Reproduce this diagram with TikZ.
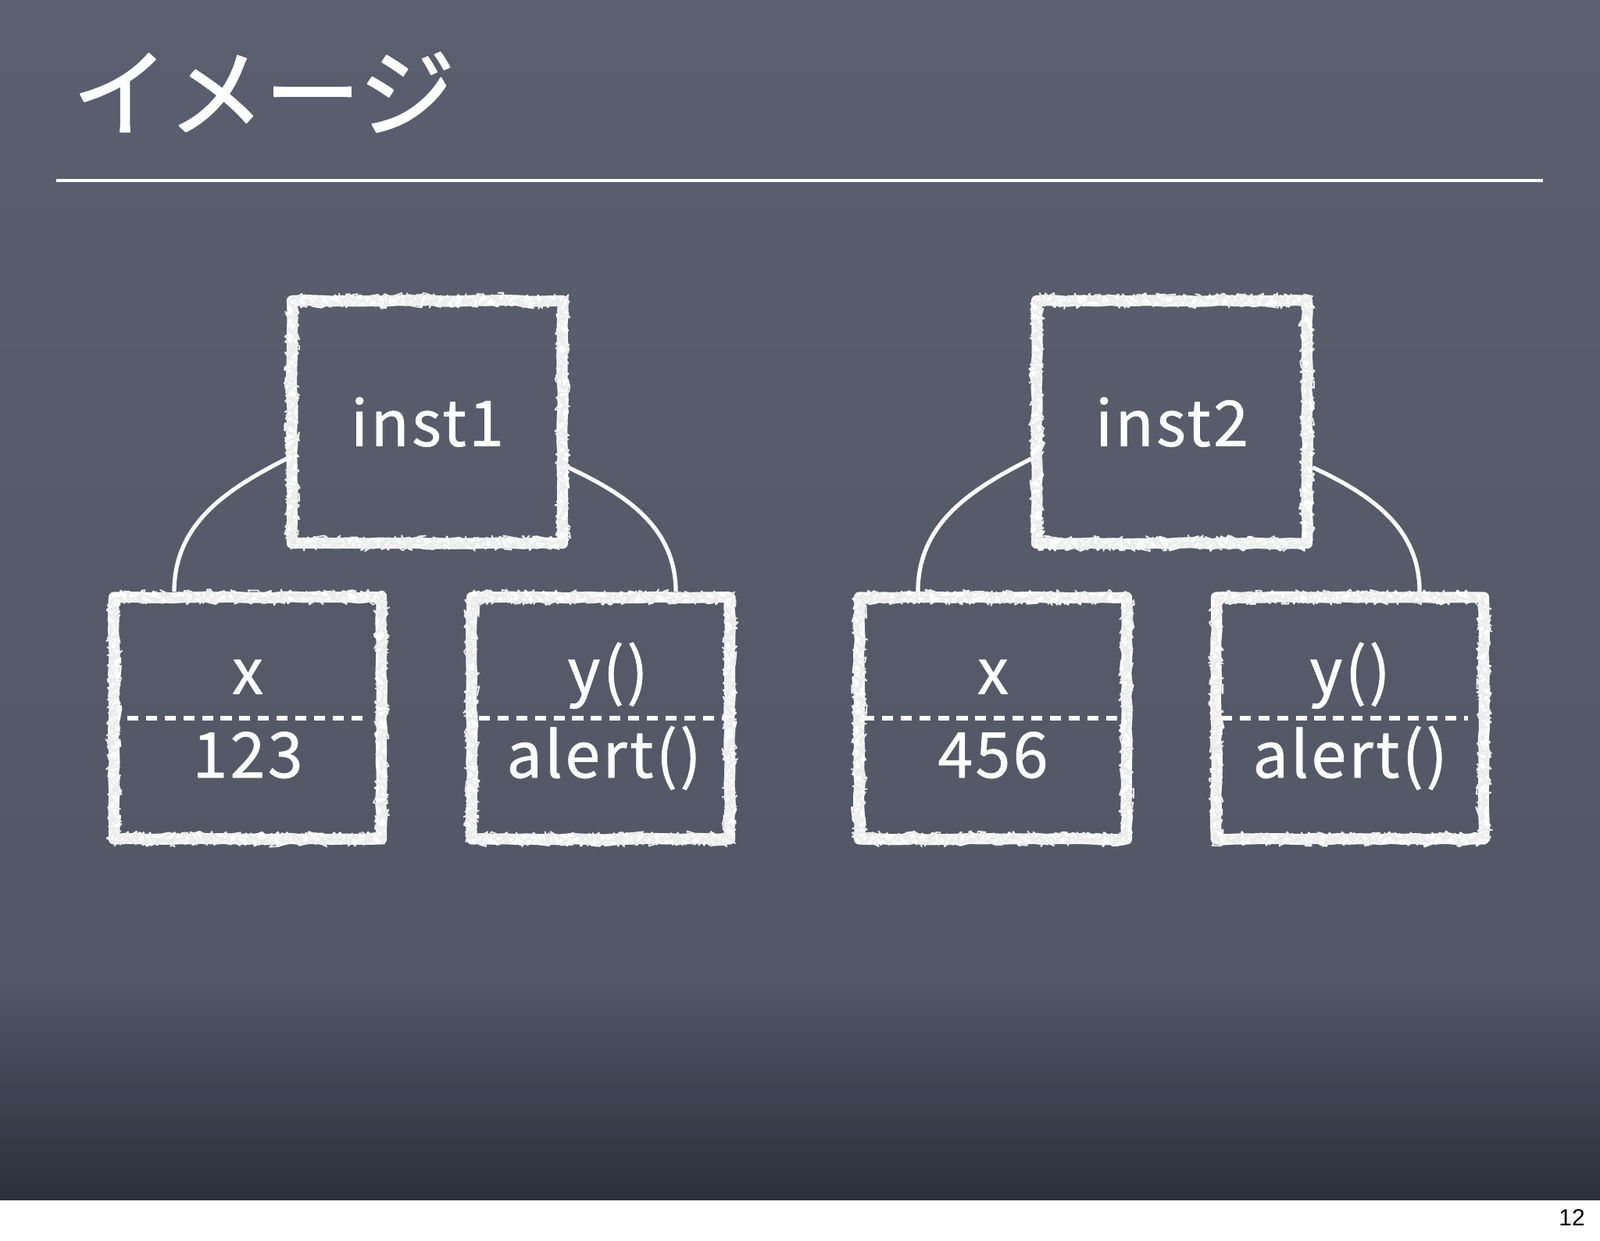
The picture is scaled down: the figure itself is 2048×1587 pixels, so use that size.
\documentclass[tikz,border=0pt]{standalone}
\usepackage{fontspec}
\setmainfont{Noto Sans CJK JP}
\newfontfamily\titlefont[FakeBold=1.6]{Noto Sans CJK JP}
\newfontfamily\chalkfont[FakeBold=0.8,LetterSpace=4]{Noto Sans CJK JP}
\newfontfamily\pagefont{Liberation Sans}
\usetikzlibrary{decorations.pathmorphing}
\definecolor{boardtop}{HTML}{5A5E6E}
\definecolor{board}{HTML}{535765}
\definecolor{boarddark}{HTML}{2C303D}
\begin{document}
\begin{tikzpicture}[x=0.01cm,y=-0.01cm,line join=round,
  chalk/.style={draw=white!94!gray,line width=4pt,decorate,
    decoration={random steps,segment length=4pt,amplitude=0.25pt},
    postaction={draw=white,line width=0.8pt,decorate,
      decoration={random steps,segment length=0.7pt,amplitude=2.5pt}},
    postaction={draw=white!85!gray,line width=0.5pt,decorate,
      decoration={random steps,segment length=0.5pt,amplitude=2.8pt}}},
  instbox/.style={chalk,minimum width=3.46cm,minimum height=3.10cm,inner sep=0pt,
    text=white,font=\chalkfont\fontsize{23}{23}\selectfont},
  membox/.style={chalk,minimum width=3.42cm,minimum height=3.09cm,inner sep=0pt},
  memtext/.style={anchor=base,text=white,font=\chalkfont\fontsize{23}{23}\selectfont},
  divider/.style={white,line width=1.5pt,dash pattern=on 4pt off 2.8pt},
  link/.style={white,line width=1.5pt}]
\useasboundingbox (0,0) rectangle (2048,1587);
\fill[white] (0,0) rectangle (2048,1587);
\shade[top color=boardtop,bottom color=board] (0,0) rectangle (2048,1250);
\shade[top color=board,bottom color=boarddark] (0,1250) rectangle (2048,1535);
\node[anchor=west,text=white,font=\titlefont\fontsize{35}{35}\selectfont] (title) at (80,118) {イメージ};
\draw[white,line width=1.4pt] (72,231) -- (1975,231);
\node[instbox] (inst1) at (547,540) {inst1};
\node[instbox] (inst2) at (1500,540) {inst2};
\node[membox] (x1) at (317,919) {};
\node[membox,minimum width=3.30cm] (y1) at (769,919) {};
\node[membox] (x2) at (1271,919) {};
\node[membox] (y2) at (1728,919) {};
\draw[link] ([yshift=-0.47cm]inst1.west) to[out=207,in=90] ([xshift=-0.94cm]x1.north);
\draw[link] ([yshift=-0.58cm]inst1.east) to[out=-25,in=90] ([xshift=0.96cm]y1.north);
\draw[link] ([yshift=-0.47cm]inst2.west) to[out=207,in=90] ([xshift=-0.96cm]x2.north);
\draw[link] ([yshift=-0.58cm]inst2.east) to[out=-25,in=90] ([xshift=0.89cm]y2.north);
\draw[divider] ([xshift=0.24cm]x1.west) -- ([xshift=-0.26cm]x1.east);
\draw[divider] ([xshift=0.16cm]y1.west) -- ([xshift=-0.10cm]y1.east);
\draw[divider] ([xshift=0.12cm]x2.west) -- ([xshift=-0.14cm]x2.east);
\draw[divider] ([xshift=0.13cm]y2.west) -- ([xshift=-0.27cm]y2.east);
\node[memtext] (x1name) at ([yshift=0.31cm]x1.center) {x};
\node[memtext] (x1val) at ([yshift=-0.76cm]x1.center) {123};
\node[memtext] (y1name) at ([xshift=0.09cm,yshift=0.31cm]y1.center) {y()};
\node[memtext] (y1val) at ([xshift=0.04cm,yshift=-0.76cm]y1.center) {alert()};
\node[memtext] (x2name) at ([yshift=0.31cm]x2.center) {x};
\node[memtext] (x2val) at ([yshift=-0.76cm]x2.center) {456};
\node[memtext] (y2name) at ([yshift=0.31cm]y2.center) {y()};
\node[memtext] (y2val) at ([yshift=-0.76cm]y2.center) {alert()};
\node[font=\pagefont\fontsize{8.5}{8.5}\selectfont] (page) at (2012,1558) {12};
\end{tikzpicture}
\end{document}
